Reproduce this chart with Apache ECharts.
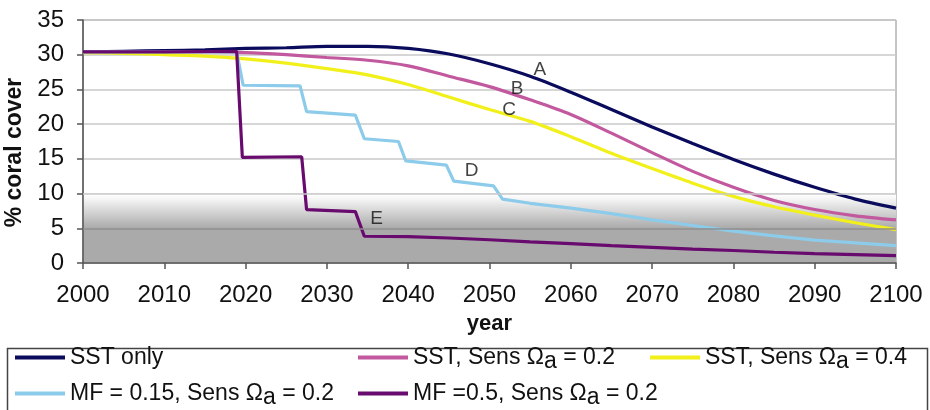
<!DOCTYPE html>
<html>
<head>
<meta charset="utf-8">
<script src="https://cdn.jsdelivr.net/npm/echarts@6/dist/echarts.min.js"></script>
<style>
html,body{margin:0;padding:0;background:#fff;}
#chart{width:930px;height:410px;}
</style>
</head>
<body>
<div id="chart"></div>
<script>
// ---- data ----
const seriesNames = ['SST only', 'SST, Sens Ωa = 0.2', 'SST, Sens Ωa = 0.4', 'MF = 0.15, Sens Ωa = 0.2', 'MF =0.5, Sens Ωa = 0.2'];
const seriesColors = ['#0b0b5e', '#c2589e', '#f2f01a', '#8ccbe9', '#690a6e'];

const years = [2000,2005,2010,2015,2020,2025,2030,2035,2040,2045,2050,2055,2060,2065,2070,2075,2080,2085,2090,2095,2100];
const sstOnly = [30.4,30.5,30.6,30.7,30.9,31.0,31.2,31.2,30.9,30.1,28.7,26.9,24.6,22.1,19.6,17.2,14.9,12.8,10.9,9.2,7.9];
const sstSens02 = [30.4,30.4,30.4,30.4,30.3,30.0,29.6,29.2,28.4,26.9,25.4,23.5,21.4,18.7,15.9,13.2,10.9,9.0,7.7,6.8,6.2];
const sstSens04 = [30.3,30.2,30.0,29.8,29.4,28.8,28.0,27.1,25.7,23.9,22.1,20.4,18.2,15.8,13.6,11.5,9.6,8.1,6.9,5.8,4.8];

const mf015Years = [2000,2010,2018.9,2019.7,2026.7,2027.5,2033.5,2034.6,2038.8,2039.7,2044.7,2045.6,2050.5,2051.6,2055,2060,2065,2070,2075,2080,2085,2090,2095,2100];
const mf015Values = [30.4,30.4,30.4,25.6,25.5,21.8,21.3,17.9,17.5,14.7,14.1,11.8,11.1,9.2,8.6,7.9,7.1,6.2,5.4,4.6,3.9,3.3,2.9,2.5];

const mf05Years = [2000,2010,2018.9,2019.6,2026.9,2027.5,2033.5,2034.6,2040,2045,2050,2055,2060,2065,2070,2075,2080,2085,2090,2095,2100];
const mf05Values = [30.4,30.4,30.5,15.2,15.3,7.7,7.4,3.85,3.8,3.6,3.35,3.05,2.8,2.5,2.25,2.0,1.8,1.55,1.35,1.2,1.05];

const curveLabels = ['A','B','C','D','E'];
const curveLabelYears = [2056.2,2053.4,2052.4,2047.8,2036.1];
const curveLabelValues = [27.8,25.1,22.1,13.3,6.4];

const bandLevels = [0, 5, 10];

const xMin = 2000, xMax = 2100, xStep = 10;
const yMin = 0, yMax = 35, yStep = 5;

// ---- build ----
const zip = (xs, ys) => xs.map((x, i) => [x, ys[i]]);
const lineData = [
  zip(years, sstOnly),
  zip(years, sstSens02),
  zip(years, sstSens04),
  zip(mf015Years, mf015Values),
  zip(mf05Years, mf05Values)
];

const FONT = '"Liberation Sans", Arial, sans-serif';

function legendFmt(name) {
  const i = name.indexOf('Ωa');
  if (i < 0) return '{t|' + name + '}';
  return '{t|' + name.slice(0, i + 1) + '}{s|a}{t|' + name.slice(i + 2) + '}';
}
const legendRich = {
  t: { fontFamily: FONT, fontSize: 23, color: '#111' },
  s: { fontFamily: FONT, fontSize: 23, color: '#111', padding: [9, 0, 0, 0] }
};
const legendPos = [
  { left: 15, top: 346 },
  { left: 358, top: 346 },
  { left: 650, top: 346 },
  { left: 15, top: 382 },
  { left: 358, top: 382 }
];

const chart = echarts.init(document.getElementById('chart'), null, { renderer: 'canvas' });

const series = lineData.map((d, i) => ({
  name: seriesNames[i],
  type: 'line',
  data: d,
  showSymbol: false,
  symbol: 'none',
  smooth: i < 3 ? 0.3 : false,
  lineStyle: { color: seriesColors[i], width: 3.2 },
  itemStyle: { color: seriesColors[i] },
  z: 2 + i * 0.1,
  animation: false
}));

series.unshift({
  name: 'band',
  type: 'line',
  data: [],
  z: 0.5,
  silent: true,
  animation: false,
  markArea: {
    silent: true,
    label: { show: false },
    data: [
      [{ yAxis: bandLevels[0], itemStyle: { color: '#aaaaaa' } }, { yAxis: bandLevels[1] }],
      [{ yAxis: bandLevels[1], itemStyle: { color: new echarts.graphic.LinearGradient(0, 0, 0, 1, [
        { offset: 0, color: 'rgba(255,255,255,1)' },
        { offset: 0.12, color: 'rgba(248,248,248,1)' },
        { offset: 1, color: '#aaaaaa' }
      ]) } }, { yAxis: bandLevels[2] }]
    ]
  },
  markLine: {
    silent: true,
    symbol: 'none',
    label: { show: false },
    data: [
      { yAxis: bandLevels[1], lineStyle: { color: '#8e8e8e', width: 1.5, type: 'solid' } },
      { yAxis: bandLevels[2], lineStyle: { color: '#c9c9c9', width: 1.5, type: 'solid' } }
    ]
  }
});

series.push({
  name: 'curve labels',
  type: 'scatter',
  data: curveLabels.map((n, i) => [curveLabelYears[i], curveLabelValues[i], n]),
  symbolSize: 1,
  itemStyle: { color: 'rgba(0,0,0,0)' },
  z: 5,
  silent: true,
  animation: false,
  label: {
    show: true,
    position: 'inside',
    formatter: p => p.data[2],
    fontFamily: FONT,
    fontSize: 19,
    color: '#111'
  }
});

const option = {
  animation: false,
  backgroundColor: '#fff',
  grid: {
    left: 83, right: 34, top: 20, bottom: 147,
    outerBoundsMode: 'none',
    containLabel: false,
    show: true, borderColor: '#8a8a8a', borderWidth: 1, backgroundColor: 'transparent'
  },
  xAxis: {
    type: 'value', min: xMin, max: xMax, interval: xStep, z: 1,
    name: 'year', nameLocation: 'middle', nameGap: 50,
    nameTextStyle: { fontFamily: FONT, fontSize: 22, fontWeight: 'bold', color: '#111' },
    axisLine: { show: true, lineStyle: { color: '#555', width: 1.5 } },
    axisTick: { show: true, length: 6, inside: false, lineStyle: { color: '#555', width: 1.5 } },
    axisLabel: { formatter: v => String(v), fontFamily: FONT, fontSize: 24, color: '#111', margin: 20 },
    splitLine: { show: false }
  },
  yAxis: {
    type: 'value', min: yMin, max: yMax, interval: yStep, z: 1,
    name: '% coral cover', nameLocation: 'middle', nameGap: 57, nameRotate: 90,
    nameTextStyle: { fontFamily: FONT, fontSize: 23, fontWeight: 'bold', color: '#111', padding: [0, 22, 0, 0] },
    axisLine: { show: true, lineStyle: { color: '#555', width: 1.5 } },
    axisTick: { show: true, length: 6, inside: false, lineStyle: { color: '#555', width: 1.5 } },
    axisLabel: { fontFamily: FONT, fontSize: 24, color: '#111', margin: 19 },
    splitLine: { show: true, lineStyle: { color: '#c9c9c9', width: 1.5 } }
  },
  legend: legendPos.map((p, i) => ({
    data: [seriesNames[i]],
    left: p.left, top: p.top,
    padding: 0,
    itemWidth: 50, itemHeight: 4,
    icon: 'rect',
    itemGap: 5,
    selectedMode: false,
    formatter: legendFmt,
    textStyle: { fontFamily: FONT, fontSize: 23, color: '#111', rich: legendRich }
  })),
  graphic: [{
    type: 'rect',
    left: 5, top: 346,
    shape: { width: 920, height: 80 },
    style: { fill: 'none', stroke: '#444', lineWidth: 1.5 },
    z: -1, silent: true
  }],
  series: series
};

chart.setOption(option);
</script>
</body>
</html>
